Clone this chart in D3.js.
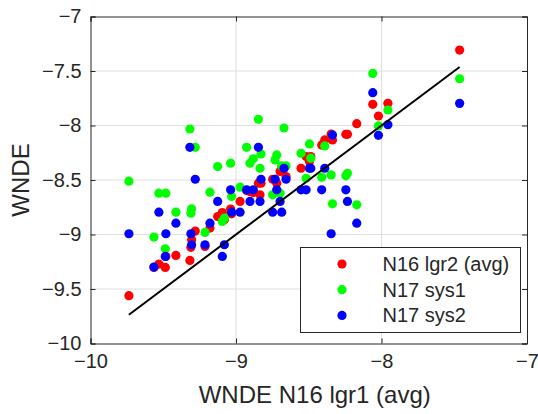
<!DOCTYPE html>
<html><head><meta charset="utf-8">
<script src="https://cdn.jsdelivr.net/npm/d3@7"></script>
<style>body{margin:0;background:#fff}svg{display:block}text{font-family:"Liberation Sans",Arial,Helvetica,sans-serif;fill:#262626}</style>
</head><body>
<script>
const xVals = [-9.736,-9.564,-9.530,-9.486,-9.482,-9.413,-9.317,-9.310,-9.305,-9.280,-9.213,-9.179,-9.126,-9.094,-9.080,-9.037,-9.030,-8.972,-8.927,-8.904,-8.881,-8.846,-8.835,-8.828,-8.748,-8.732,-8.720,-8.697,-8.686,-8.670,-8.656,-8.553,-8.518,-8.495,-8.486,-8.411,-8.390,-8.346,-8.337,-8.245,-8.234,-8.170,-8.060,-8.021,-7.956,-7.463];
const redVals = [-9.561,-9.302,-9.271,-9.302,-9.201,-9.192,-9.238,-9.118,-9.048,-8.969,-9.109,-8.941,-8.835,-8.798,-8.865,-8.767,-8.810,-8.697,-8.596,-8.606,-8.615,-8.529,-8.636,-8.529,-8.493,-8.493,-8.529,-8.422,-8.383,-8.392,-8.468,-8.392,-8.285,-8.331,-8.285,-8.178,-8.132,-8.078,-8.132,-8.081,-8.081,-7.983,-7.806,-7.913,-7.797,-7.308];
const greenVals = [-8.511,-9.024,-8.621,-9.131,-8.621,-8.795,-8.032,-8.804,-8.764,-8.200,-8.981,-8.612,-8.377,-8.880,-8.850,-8.346,-8.651,-8.566,-8.200,-8.346,-8.306,-7.943,-8.392,-8.261,-8.636,-8.316,-8.270,-8.621,-8.371,-8.023,-8.371,-8.255,-8.484,-8.169,-8.300,-8.474,-8.187,-8.453,-8.719,-8.462,-8.438,-8.728,-7.522,-8.004,-7.858,-7.571];
const blueVals = [-8.993,-9.299,-8.795,-9.201,-8.993,-8.896,-8.200,-8.993,-9.094,-8.493,-9.094,-8.896,-8.697,-9.201,-9.094,-8.590,-8.795,-8.795,-8.590,-8.697,-8.590,-8.200,-8.697,-8.493,-8.795,-8.493,-8.590,-8.697,-8.795,-8.392,-8.493,-8.590,-8.590,-8.392,-8.392,-8.590,-8.392,-8.993,-8.087,-8.590,-8.697,-8.896,-7.699,-8.090,-7.992,-7.797];
const seriesNames = ["N16 lgr2 (avg)","N17 sys1","N17 sys2"];
const seriesColors = ["#ff0000","#00ff00","#0000ff"];
const xTicks = [-10,-9,-8,-7];
const yTicks = [-10,-9.5,-9,-8.5,-8,-7.5,-7];
const xLabel = "WNDE N16 lgr1 (avg)";
const yLabel = "WNDE";

const W=538,H=414;
const L=90.5,R=527,T=16.5,B=343.5;
const svg=d3.select("body").append("svg").attr("width",W).attr("height",H);
const x=d3.scaleLinear().domain([-10,-7]).range([L,R]);
const y=d3.scaleLinear().domain([-10,-7]).range([B,T]);

// grid
svg.append("g").selectAll("line").data(xTicks.slice(1,-1)).join("line")
  .attr("x1",d=>x(d)).attr("x2",d=>x(d)).attr("y1",T).attr("y2",B)
  .attr("stroke","#dfdfdf").attr("stroke-width",1);
svg.append("g").selectAll("line").data(yTicks.slice(1,-1)).join("line")
  .attr("y1",d=>y(d)).attr("y2",d=>y(d)).attr("x1",L).attr("x2",R)
  .attr("stroke","#dfdfdf").attr("stroke-width",1);

// points
const series=[redVals,greenVals,blueVals];
series.forEach((vals,i)=>{
  svg.append("g").selectAll("circle").data(xVals.map((xv,j)=>[xv,vals[j]])).join("circle")
    .attr("cx",d=>x(d[0])).attr("cy",d=>y(d[1])).attr("r",4.6).attr("fill",seriesColors[i]);
});

// y = x line
const lx=[d3.min(xVals),d3.max(xVals)];
svg.append("line").attr("x1",x(lx[0])).attr("y1",y(lx[0])).attr("x2",x(lx[1])).attr("y2",y(lx[1]))
  .attr("stroke","#000").attr("stroke-width",2);

// axes with inward ticks
const tl=5;
const ax=svg.append("g").attr("transform",`translate(0,${B})`).call(d3.axisBottom(x).tickValues(xTicks).tickSize(-tl).tickPadding(10).tickFormat(d3.format("")));
const axT=svg.append("g").attr("transform",`translate(0,${T})`).call(d3.axisTop(x).tickValues(xTicks).tickSize(-tl).tickFormat(""));
const ay=svg.append("g").attr("transform",`translate(${L},0)`).call(d3.axisLeft(y).tickValues(yTicks).tickSize(-tl).tickPadding(9).tickFormat(d3.format("")));
const ayR=svg.append("g").attr("transform",`translate(${R},0)`).call(d3.axisRight(y).tickValues(yTicks).tickSize(-tl).tickFormat(""));
[ax,axT,ay,ayR].forEach(g=>{
  g.select(".domain").attr("stroke","#262626").attr("stroke-width",1);
  g.selectAll(".tick line").attr("stroke","#262626");
  g.selectAll("text").attr("font-size",20).attr("fill","#262626").style("font-family",'"Liberation Sans",Arial,sans-serif');
});
ax.selectAll("text").attr("dy","0.71em");

// labels
svg.append("text").attr("x",(L+R)/2+6).attr("y",403).attr("text-anchor","middle").attr("font-size",24).text(xLabel);
svg.append("text").attr("transform",`translate(29,${(T+B)/2}) rotate(-90)`).attr("text-anchor","middle").attr("font-size",24).text(yLabel);

// legend
const lg=svg.append("g");
lg.append("rect").attr("x",300.5).attr("y",247.5).attr("width",220).attr("height",85).attr("fill","#fff").attr("stroke","#262626").attr("stroke-width",1);
seriesNames.forEach((n,i)=>{
  const yy=264+i*25.7;
  lg.append("circle").attr("cx",342).attr("cy",yy).attr("r",4.6).attr("fill",seriesColors[i]);
  lg.append("text").attr("x",382.5).attr("y",yy).attr("dy","0.35em").attr("font-size",20).text(n);
});
</script>
</body></html>
